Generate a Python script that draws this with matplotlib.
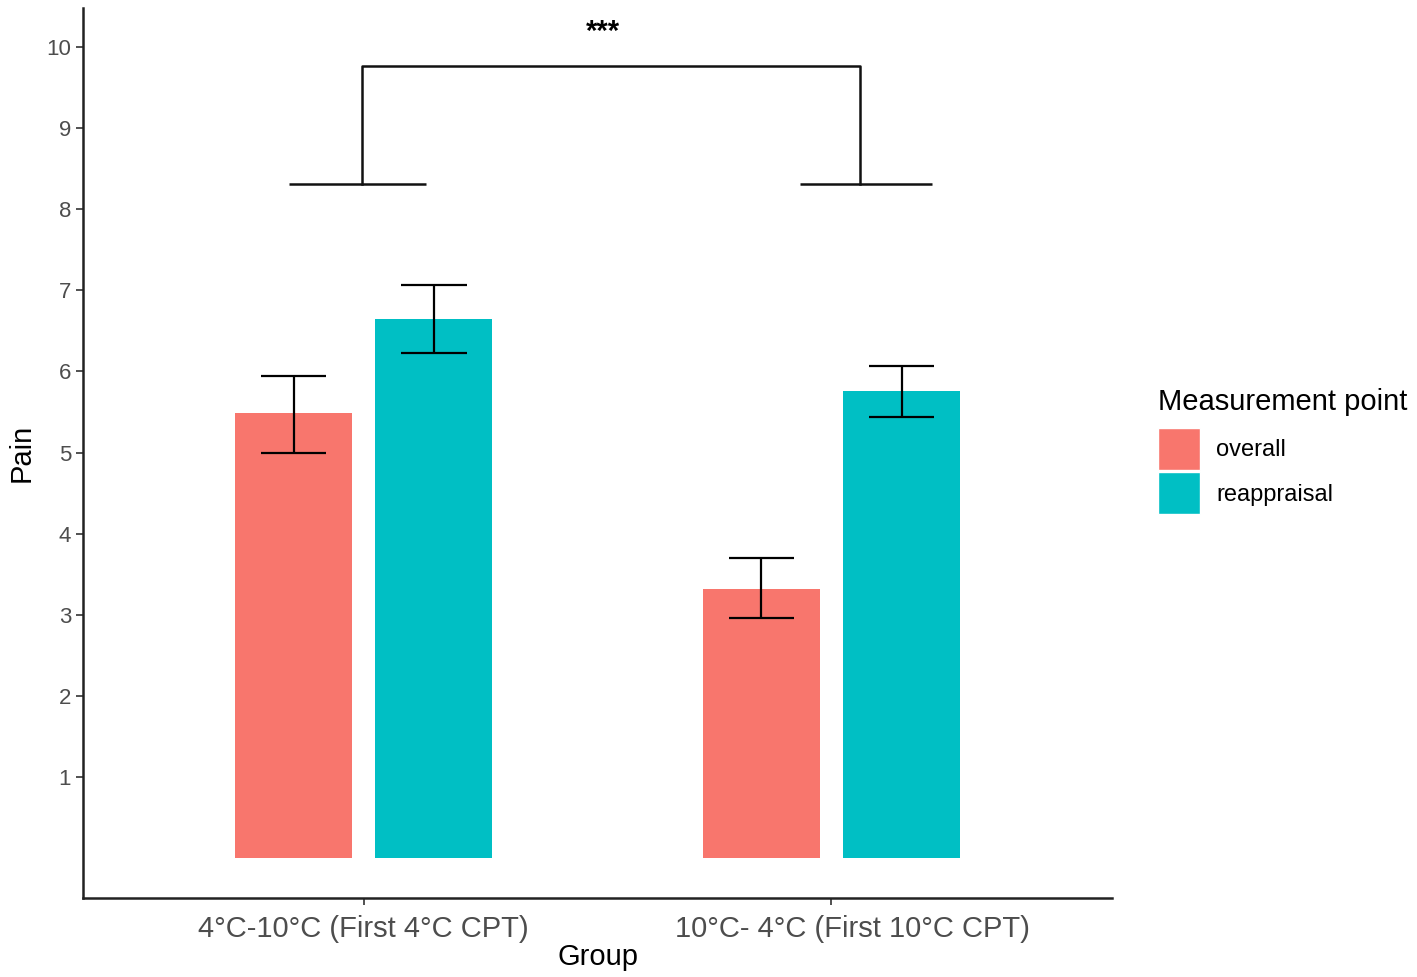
import numpy as np
import matplotlib.pyplot as plt
from matplotlib.patches import Patch

plt.rcParams['font.family'] = ['Liberation Sans', 'DejaVu Sans']

# data
groups = ['4°C-10°C (First 4°C CPT)', '10°C- 4°C (First 10°C CPT)']
series = ['overall', 'reappraisal']
means = {'overall': [5.49, 3.32], 'reappraisal': [6.65, 5.76]}
err_lo = {'overall': [4.99, 2.96], 'reappraisal': [6.23, 5.44]}
err_hi = {'overall': [5.95, 3.70], 'reappraisal': [7.07, 6.07]}
colors = {'overall': '#F8766D', 'reappraisal': '#00BFC4'}

# significance bracket
bracket_low = 8.31
bracket_high = 9.77
sig_label = '***'

fig = plt.figure(figsize=(14.17, 9.77), dpi=100)
ax = fig.add_axes([0.0586, 0.0809, 0.7262, 0.9109])

x = np.array([1, 2])
offsets = {'overall': -0.15, 'reappraisal': 0.15}
for s in series:
    xs = x + offsets[s]
    ax.bar(xs, means[s], width=0.25, color=colors[s], zorder=2)
    lo = np.array(err_lo[s])
    hi = np.array(err_hi[s])
    ax.vlines(xs, lo, hi, color='black', lw=1.6, zorder=3)
    ax.hlines(lo, xs - 0.07, xs + 0.07, color='black', lw=1.6, zorder=3)
    ax.hlines(hi, xs - 0.07, xs + 0.07, color='black', lw=1.6, zorder=3)

# bracket: each group gets a short bar, joined from above
left_arm = [0.84, 1.133]
right_arm = [1.932, 2.216]
left_mid, right_mid = 0.996, 2.062
ax.hlines(bracket_low, left_arm[0], left_arm[1], color='#111111', lw=1.8)
ax.hlines(bracket_low, right_arm[0], right_arm[1], color='#111111', lw=1.8)
ax.plot([left_mid, left_mid, right_mid, right_mid],
        [bracket_low, bracket_high, bracket_high, bracket_low],
        color='#111111', lw=1.8)
ax.text(1.511, 10.18, sig_label, ha='center', va='center',
        fontsize=21, fontweight='bold')

ax.set_xlim(0.4, 2.6)
ax.set_ylim(-0.49, 10.48)
ax.set_xticks(x)
ax.set_xticklabels([])
# group labels drawn by hand; the second one sits a bit right of its tick
label_shift = [0, 15]
for xi, g, dx in zip(x, groups, label_shift):
    ax.annotate(g, (xi, 0), xycoords=('data', 'axes fraction'),
                xytext=(dx, -12), textcoords='offset points',
                ha='center', va='top', fontsize=21, color='#4D4D4D')
ax.set_yticks(range(1, 11))
ax.tick_params(axis='y', labelsize=16, labelcolor='#4D4D4D', length=5, width=1.2, color='#333333')
ax.tick_params(axis='x', length=5, width=1.2, color='#333333')
ax.set_xlabel('Group', fontsize=21, labelpad=24)
ax.set_ylabel('Pain', fontsize=21, labelpad=8)

for side in ['top', 'right']:
    ax.spines[side].set_visible(False)
for side in ['left', 'bottom']:
    ax.spines[side].set_linewidth(1.8)
    ax.spines[side].set_color('#222222')

fig.text(1158 / 1417, 1 - 402 / 977, 'Measurement point', fontsize=21, va='center')
handles = [Patch(facecolor=colors[s], edgecolor='white', label=s) for s in series]
leg = fig.legend(handles=handles, loc='upper left',
                 bbox_to_anchor=(0.817, 0.562), frameon=False, fontsize=17,
                 handlelength=1.78, handleheight=2.36, handletextpad=0.7,
                 labelspacing=0.1, borderpad=0, borderaxespad=0)

fig.savefig('out.png', dpi=100)
